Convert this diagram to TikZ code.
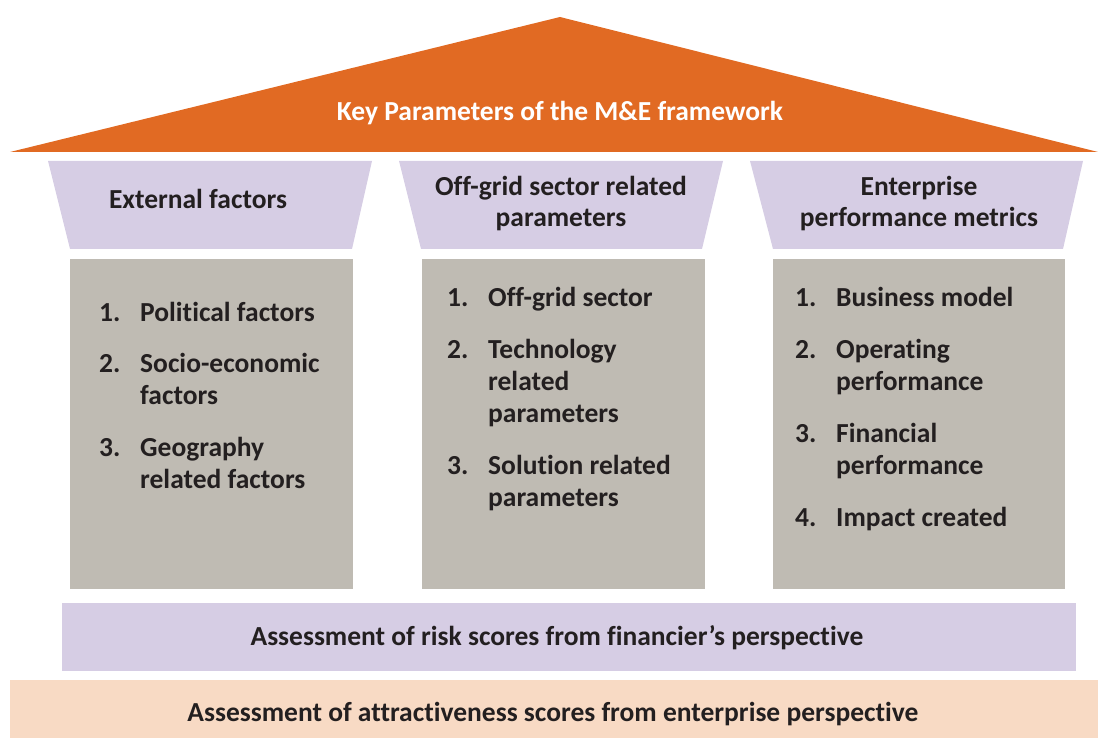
\documentclass[tikz,border=0pt]{standalone}
\usepackage{fontspec}
\setmainfont{Carlito}[Ligatures=NoCommon]
\usepackage{tikz}

\definecolor{roofcol}{RGB}{225,106,35}
\definecolor{lavender}{RGB}{214,205,228}
\definecolor{pillar}{RGB}{191,187,179}
\definecolor{peach}{RGB}{248,218,196}
\definecolor{ink}{RGB}{35,31,32}

\begin{document}
\begin{tikzpicture}[x=1pt,y=-1pt,
    every node/.style={font=\fontsize{27.5}{32}\selectfont\bfseries, text=ink, inner sep=0pt},
    head/.style={align=center, anchor=base},
    num/.style={anchor=base west},
    item/.style={anchor=base west, align=left}]
    \useasboundingbox (0,0) rectangle (1098,738);

    % roof
    \fill[roofcol] (10,152) -- (560,17) -- (1098,152) -- cycle;
    \node[head, text=white] (roof) at (560,121) {Key Parameters of the M\&E framework};

    % column heads (multi-line nodes sit on their last line)
    \fill[lavender] (48,161) -- (372,161) -- (352,249) -- (70,249) -- cycle;
    \fill[lavender] (399,161) -- (723,161) -- (702,249) -- (421,249) -- cycle;
    \fill[lavender] (750,161) -- (1083,161) -- (1063,249) -- (773,249) -- cycle;
    \node[head] (head1) at (198,209) {External factors};
    \node[head] (head2) at (561,227) {Off-grid sector related\\parameters};
    \node[head] (head3) at (919,227) {Enterprise\\performance metrics};

    % pillars
    \fill[pillar] (70,259) rectangle (353,589);
    \fill[pillar] (422,259) rectangle (705,589);
    \fill[pillar] (773,259) rectangle (1065,589);

    % external factors
    \node[num] (n11) at (99,321) {1.};
    \node[item] (i11) at (140,321) {Political factors};
    \node[num] (n12) at (99,372) {2.};
    \node[item] (i12) at (140,404) {Socio-economic\\factors};
    \node[num] (n13) at (99,456) {3.};
    \node[item] (i13) at (140,488) {Geography\\related factors};

    % off-grid sector
    \node[num] (n21) at (447,306) {1.};
    \node[item] (i21) at (488,306) {Off-grid sector};
    \node[num] (n22) at (447,358) {2.};
    \node[item] (i22) at (488,422) {Technology\\related\\parameters};
    \node[num] (n23) at (447,474) {3.};
    \node[item] (i23) at (488,506) {Solution related\\parameters};

    % enterprise metrics
    \node[num] (n31) at (795,306) {1.};
    \node[item] (i31) at (836,306) {Business model};
    \node[num] (n32) at (795,358) {2.};
    \node[item] (i32) at (836,390) {Operating\\performance};
    \node[num] (n33) at (795,442) {3.};
    \node[item] (i33) at (836,474) {Financial\\performance};
    \node[num] (n34) at (795,526) {4.};
    \node[item] (i34) at (836,526) {Impact created};

    % base bars
    \fill[lavender] (62,603) rectangle (1076,671);
    \node[head] (risk) at (557,645) {Assessment of risk scores from financier’s perspective};
    \fill[peach] (10,680) rectangle (1098,738);
    \node[head] (attract) at (553,721) {Assessment of attractiveness scores from enterprise perspective};
\end{tikzpicture}
\end{document}
